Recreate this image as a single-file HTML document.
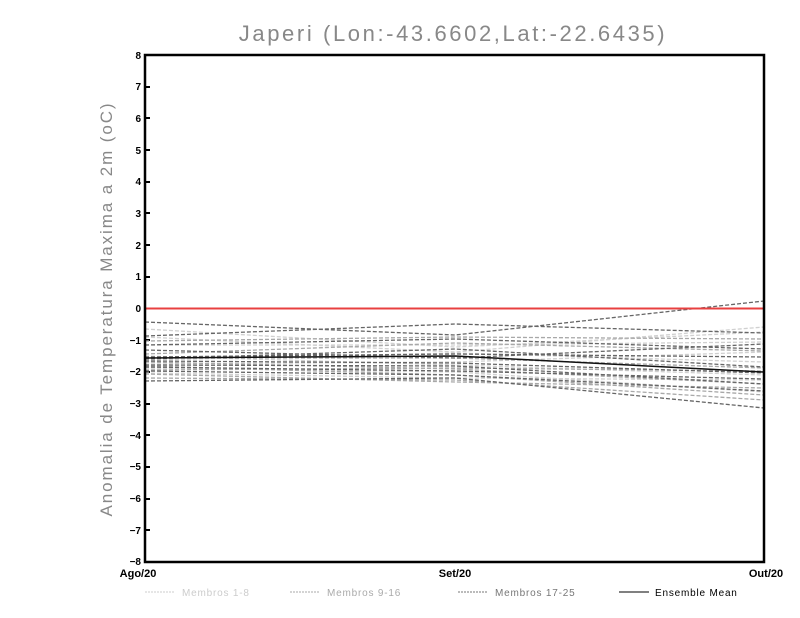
<!DOCTYPE html>
<html><head><style>body{margin:0;background:#fff}svg{display:block}</style></head><body>
<svg width="800" height="618" xmlns="http://www.w3.org/2000/svg" font-family="Liberation Sans, sans-serif">
<rect width="800" height="618" fill="#fff"/>
<text x="453" y="41" font-size="22" fill="#888" text-anchor="middle" letter-spacing="2.6">Japeri (Lon:-43.6602,Lat:-22.6435)</text>
<text transform="translate(112,309) rotate(-90)" font-size="17" fill="#888" text-anchor="middle" letter-spacing="1.9">Anomalia de Temperatura Maxima a 2m (oC)</text>
<g font-size="10" font-weight="bold" text-anchor="end" fill="#000">
<text x="141" y="59">8</text><text x="141" y="90">7</text><text x="141" y="122">6</text><text x="141" y="154">5</text><text x="141" y="185">4</text><text x="141" y="217">3</text><text x="141" y="249">2</text><text x="141" y="280">1</text><text x="141" y="312">0</text><text x="141" y="344">−1</text><text x="141" y="375">−2</text><text x="141" y="407">−3</text><text x="141" y="439">−4</text><text x="141" y="470">−5</text><text x="141" y="502">−6</text><text x="141" y="534">−7</text><text x="141" y="565">−8</text>
</g>
<g stroke="#000" stroke-width="2">
<line x1="145" y1="87" x2="150" y2="87"/><line x1="145" y1="118" x2="150" y2="118"/><line x1="145" y1="150" x2="150" y2="150"/><line x1="145" y1="182" x2="150" y2="182"/><line x1="145" y1="213" x2="150" y2="213"/><line x1="145" y1="245" x2="150" y2="245"/><line x1="145" y1="277" x2="150" y2="277"/><line x1="145" y1="340" x2="150" y2="340"/><line x1="145" y1="372" x2="150" y2="372"/><line x1="145" y1="404" x2="150" y2="404"/><line x1="145" y1="435" x2="150" y2="435"/><line x1="145" y1="467" x2="150" y2="467"/><line x1="145" y1="499" x2="150" y2="499"/><line x1="145" y1="530" x2="150" y2="530"/>
</g>
<g fill="none" stroke-dasharray="4,2" stroke-width="1.3">
<g stroke="#d0d0d0">
<polyline points="145,337 455,352 764,327"/><polyline points="145,345 455,345 764,342"/><polyline points="145,356 455,365 764,375"/><polyline points="145,364 455,362 764,352"/><polyline points="145,368 455,372 764,392"/><polyline points="145,373 455,378 764,380"/><polyline points="145,329 455,347 764,332"/><polyline points="145,360 455,353 764,362"/>
</g>
<g stroke="#a8a8a8">
<polyline points="145,341 455,337 764,339"/><polyline points="145,358 455,358 764,368"/><polyline points="145,362 455,369 764,384"/><polyline points="145,366 455,375 764,395"/><polyline points="145,370 455,368 764,371"/><polyline points="145,374 455,382 764,388"/><polyline points="145,354 455,343 764,351"/><polyline points="145,378 455,380 764,400"/>
</g>
<g stroke="#666">
<polyline points="145,322 455,335 764,301"/><polyline points="145,336 455,324 764,333"/><polyline points="145,345 455,339 764,349"/><polyline points="145,357 455,354 764,357"/><polyline points="145,359 455,349 764,367"/><polyline points="145,361 455,363 764,373"/><polyline points="145,365 455,366 764,384"/><polyline points="145,367 455,371 764,379"/><polyline points="145,371 455,375 764,391"/><polyline points="145,381 455,378 764,408"/><polyline points="145,350 455,358 764,344"/>
</g>
</g>
<polyline points="145,358 455,356 764,372" fill="none" stroke="#111" stroke-width="1.5"/>
<line x1="145" y1="308.5" x2="764" y2="308.5" stroke="#e84040" stroke-width="2"/>
<rect x="145" y="55" width="619" height="507" fill="none" stroke="#000" stroke-width="2.5"/>
<g font-size="11" font-weight="bold" fill="#000" text-anchor="middle">
<text x="138" y="577">Ago/20</text><text x="455" y="577">Set/20</text><text x="766" y="577">Out/20</text>
</g>
<g font-size="10" letter-spacing="0.8">
<line x1="145" y1="592" x2="175" y2="592" stroke="#ccc" stroke-dasharray="2,1"/><text x="182" y="596" fill="#ccc">Membros 1-8</text>
<line x1="290" y1="592" x2="320" y2="592" stroke="#aaa" stroke-dasharray="2,1"/><text x="327" y="596" fill="#aaa">Membros 9-16</text>
<line x1="458" y1="592" x2="488" y2="592" stroke="#777" stroke-dasharray="2,1"/><text x="495" y="596" fill="#777">Membros 17-25</text>
<line x1="619" y1="592" x2="649" y2="592" stroke="#000"/><text x="655" y="596" fill="#000">Ensemble Mean</text>
</g>
</svg>
</body></html>
